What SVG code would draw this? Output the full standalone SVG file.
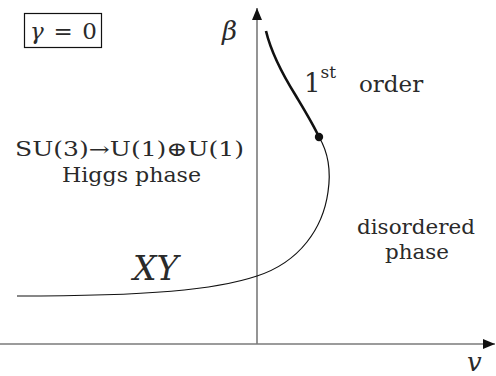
<svg xmlns="http://www.w3.org/2000/svg" width="496" height="376" viewBox="0 0 496 376">
<style>
text{font-family:'DejaVu Serif','Liberation Serif',serif;fill:#2a2a2a}
.it{font-style:italic}
.axis{stroke:#7a7a7a;stroke-width:1.6;fill:none}
.curve{stroke:#111;fill:none}
</style>
<defs>
<marker id="ah" viewBox="0 0 12 10" refX="12" refY="5" markerWidth="12" markerHeight="10" markerUnits="userSpaceOnUse" orient="auto">
<path d="M0,0 L12,5 L0,10 Z" fill="#111"/>
</marker>
</defs>
<rect width="496" height="376" fill="#fff"/>
<g id="connectors">
<line class="axis" x1="0" y1="344" x2="495" y2="344" marker-end="url(#ah)"/>
<line class="axis" x1="257" y1="344" x2="257" y2="8" marker-end="url(#ah)"/>
<path class="curve" stroke-width="2.6" d="M266,31 C271,52 281,72 296,96 C305,111 313,124 319,137"/>
<path class="curve" stroke-width="1.2" d="M319,137 C328,152 331,172 328,192 C323,228 300,262 257,276 C215,290 150,296 17,296"/>
</g>
<g id="critical-point"><circle cx="319" cy="137" r="4.2" fill="#111"/></g>
<g id="gamma-label">
<rect x="24.5" y="13.5" width="77" height="34" fill="none" stroke="#111" stroke-width="1.2"/>
<text x="30" y="39" font-size="23" textLength="67" lengthAdjust="spacing"><tspan class="it">γ</tspan> = 0</text>
</g>
<g id="beta-label"><text class="it" x="222" y="40" font-size="26">β</text></g>
<g id="v-label"><text class="it" x="467" y="371" font-size="26">v</text></g>
<g id="first-order-label"><text x="304" y="92" font-size="26">1<tspan font-size="17" dy="-14">st</tspan><tspan dy="14" x="359" font-size="23">order</tspan></text></g>
<g id="higgs-label">
<text x="15" y="156" font-size="20" textLength="229" lengthAdjust="spacingAndGlyphs">SU(3)→U(1)⊕U(1)</text>
<text x="62" y="182" font-size="20" textLength="139" lengthAdjust="spacingAndGlyphs">Higgs phase</text>
</g>
<g id="xy-label"><text class="it" x="133" y="280" font-size="33">XY</text></g>
<g id="disordered-label">
<text x="357" y="234" font-size="20" textLength="118" lengthAdjust="spacingAndGlyphs">disordered</text>
<text x="385" y="259" font-size="20" textLength="64" lengthAdjust="spacingAndGlyphs">phase</text>
</g>
</svg>
